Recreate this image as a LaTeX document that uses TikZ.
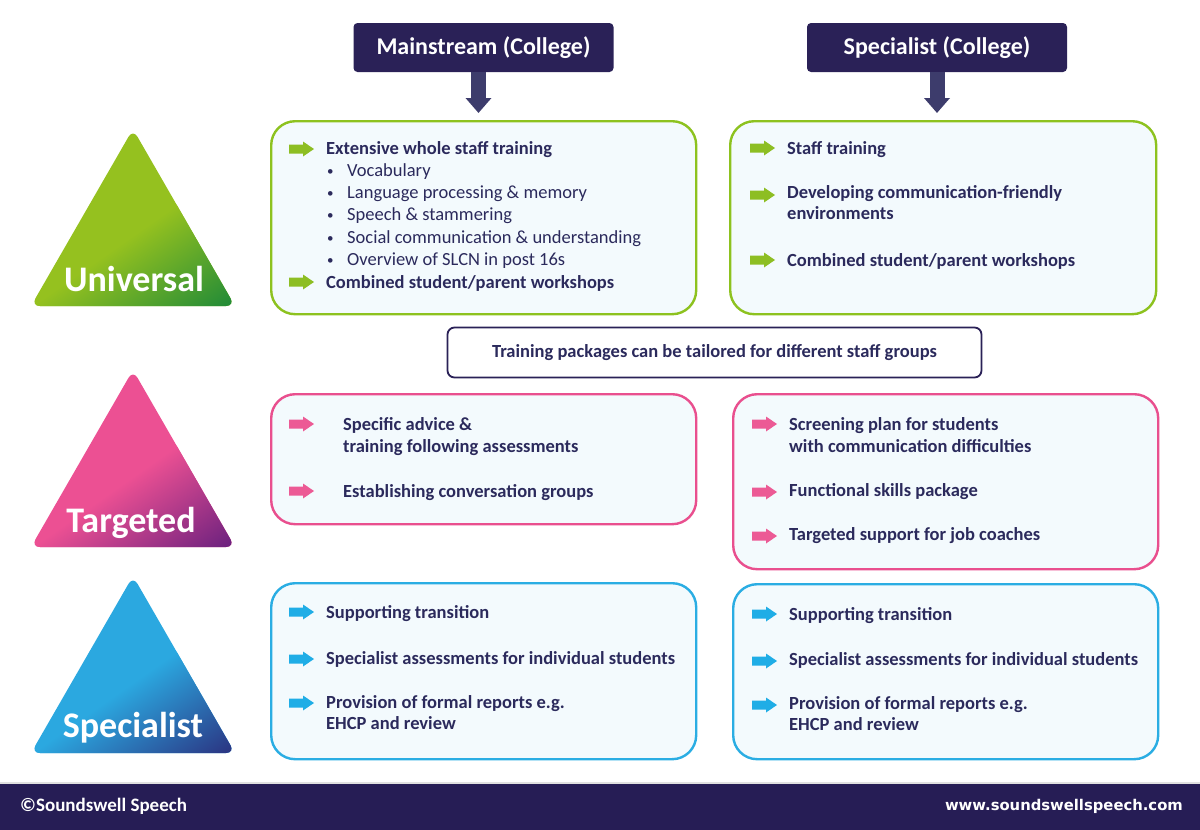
\documentclass[tikz,border=0pt]{standalone}
\usepackage{fontspec}
\setmainfont{Carlito}
\newfontfamily\urlfont{DejaVu Sans}
\usetikzlibrary{arrows.meta}
\definecolor{navy}{HTML}{2A2157}
\definecolor{foot}{HTML}{261D55}
\definecolor{txt}{HTML}{2B2A5C}
\definecolor{arr}{HTML}{3D3C6C}
\definecolor{gB}{HTML}{8DC21F}
\definecolor{pB}{HTML}{E94F8E}
\definecolor{bB}{HTML}{2AADE3}
\definecolor{gArr}{HTML}{8DBE23}
\definecolor{pArr}{HTML}{EC5A95}
\definecolor{bArr}{HTML}{1FADE6}
\definecolor{boxfill}{HTML}{F3FAFD}
\definecolor{gL}{HTML}{95C11F}\definecolor{gD}{HTML}{15853A}
\definecolor{pL}{HTML}{EC5093}\definecolor{pD}{HTML}{5E1C7C}
\definecolor{bL}{HTML}{2BA8E0}\definecolor{bD}{HTML}{2B2878}
\newcommand\gradtri[3]{%
  \begin{scope}
    \clip[rounded corners=9pt] (133,#1) -- (235,#1+177) -- (31,#1+177) -- cycle;
    \fill[#2] (20,#1-10) rectangle (250,#1+190);
    \begin{scope}[transform canvas={rotate around={35:(133,#1+88)}}]
      \shade[top color=#2, bottom color=#3] (-70,#1+88+15) rectangle (336,#1+88+140);
    \end{scope}
  \end{scope}}
\tikzset{
  panel/.style={draw=#1, line width=2.4pt, fill=boxfill, rounded corners=24pt, anchor=north west, inner sep=0pt},
  hdr/.style={fill=navy, rounded corners=4pt, minimum width=260pt, minimum height=49pt, text=white, font=\fontsize{24}{28}\selectfont\bfseries},
  item/.style={anchor=base west, inner sep=0pt, text=txt, font=\fontsize{18.5}{22}\selectfont\bfseries},
  sub/.style={anchor=base west, inner sep=0pt, text=txt, font=\fontsize{18.5}{22}\selectfont},
  dot/.style={anchor=base west, inner sep=0pt, text=txt, font=\fontsize{13}{16}\selectfont},
  tri/.style={anchor=base, text=white, font=\fontsize{36}{40}\selectfont\bfseries},
  conn/.style={draw=arr, line width=15pt, -{Triangle[width=25pt,length=15pt]}, shorten >=7pt},
  barrow/.pic={\fill (0,-4.5) -- (14,-4.5) -- (14,-7.5) -- (25,0) -- (14,7.5) -- (14,4.5) -- (0,4.5) -- cycle;}
}
\begin{document}
\begin{tikzpicture}[x=1pt,y=-1pt]
\useasboundingbox (0,0) rectangle (1200,830);
\fill[white] (0,0) rectangle (1200,830);

% triangles
\gradtri{129}{gL}{gD}
\node[tri] (tU) at (134,291) {Universal};
\gradtri{370}{pL}{pD}
\node[tri] (tT) at (131,532) {Targeted};
\gradtri{576}{bL}{bD}
\node[tri] (tS) at (133,737) {Specialist};

% headers
\node[hdr] (HM) at (483.5,47.5) {Mainstream (College)};
\node[hdr] (HS) at (937,47.5) {Specialist (College)};

% panels
\node[panel=gB, minimum width=425pt, minimum height=193pt] (UL) at (270,120) {};
\node[panel=gB, minimum width=426pt, minimum height=193pt] (UR) at (729,120) {};
\node[panel=pB, minimum width=425pt, minimum height=130pt] (TL) at (270,393) {};
\node[panel=pB, minimum width=425pt, minimum height=175pt] (TR) at (732,393) {};
\node[panel=bB, minimum width=425pt, minimum height=176pt] (SL) at (270,582) {};
\node[panel=bB, minimum width=425pt, minimum height=175pt] (SR) at (732,583) {};

% header arrows
\draw[conn] ([xshift=-5pt]HM.south) -- ([xshift=-5pt]HM.south |- UL.north);
\draw[conn] (HS.south) -- (HS.south |- UR.north);

% training packages
\node[draw=navy, line width=1.8pt, fill=white, rounded corners=7pt, minimum width=534pt, minimum height=50pt,
      text=txt, font=\fontsize{18.5}{22}\selectfont\bfseries] (TP) at (714.5,352.5)
  {Training packages can be tailored for different staff groups};

% Universal left
\pic[fill=gArr] at (289,149) {barrow};
\node[item] (ul1) at (326,154) {Extensive whole staff training};
\node[dot] (ub1) at (327,175) {•}; \node[sub] (ul2) at (347,176) {Vocabulary};
\node[dot] (ub2) at (327,197) {•}; \node[sub] (ul3) at (347,198) {Language processing \& memory};
\node[dot] (ub3) at (327,219) {•}; \node[sub] (ul4) at (347,220) {Speech \& stammering};
\node[dot] (ub4) at (327,242) {•}; \node[sub] (ul5) at (347,243) {Social communication \& understanding};
\node[dot] (ub5) at (327,264) {•}; \node[sub] (ul6) at (347,265) {Overview of SLCN in post 16s};
\pic[fill=gArr] at (289,282) {barrow};
\node[item] (ul7) at (326,288) {Combined student/parent workshops};

% Universal right
\pic[fill=gArr] at (750,148) {barrow};
\node[item] (ur1) at (787,154) {Staff training};
\pic[fill=gArr] at (750,195) {barrow};
\node[item] (ur2) at (787,198) {Developing communication-friendly};
\node[item] (ur3) at (787,219) {environments};
\pic[fill=gArr] at (750,260) {barrow};
\node[item] (ur4) at (787,266) {Combined student/parent workshops};

% Targeted left
\pic[fill=pArr] at (289,424) {barrow};
\node[item] (tl1) at (343,430) {Specific advice \&};
\node[item] (tl2) at (343,452) {training following assessments};
\pic[fill=pArr] at (289,491) {barrow};
\node[item] (tl3) at (343,497) {Establishing conversation groups};

% Targeted right
\pic[fill=pArr] at (752,424) {barrow};
\node[item] (tr1) at (789,430) {Screening plan for students};
\node[item] (tr2) at (789,452) {with communication difficulties};
\pic[fill=pArr] at (752,492) {barrow};
\node[item] (tr3) at (789,496) {Functional skills package};
\pic[fill=pArr] at (752,536) {barrow};
\node[item] (tr4) at (789,540) {Targeted support for job coaches};

% Specialist left
\pic[fill=bArr] at (289,612) {barrow};
\node[item] (sl1) at (326,618) {Supporting transition};
\pic[fill=bArr] at (289,659) {barrow};
\node[item] (sl2) at (326,664) {Specialist assessments for individual students};
\pic[fill=bArr] at (289,703) {barrow};
\node[item] (sl3) at (326,708) {Provision of formal reports e.g.};
\node[item] (sl4) at (326,729) {EHCP and review};

% Specialist right
\pic[fill=bArr] at (752,614) {barrow};
\node[item] (sr1) at (789,620) {Supporting transition};
\pic[fill=bArr] at (752,661) {barrow};
\node[item] (sr2) at (789,665) {Specialist assessments for individual students};
\pic[fill=bArr] at (752,705) {barrow};
\node[item] (sr3) at (789,709) {Provision of formal reports e.g.};
\node[item] (sr4) at (789,730) {EHCP and review};

% footer
\fill[black!12] (0,782) rectangle (1200,784);
\fill[foot] (0,784) rectangle (1200,830);
\node[anchor=west, inner sep=0pt, text=white, font=\fontsize{19}{22}\selectfont\bfseries] (cp) at (20,806) {©Soundswell Speech};
\node[anchor=east, inner sep=0pt, text=white, font=\urlfont\fontsize{14.8}{18}\selectfont\bfseries] (url) at (1183,806) {www.soundswellspeech.com};
\end{tikzpicture}
\end{document}
